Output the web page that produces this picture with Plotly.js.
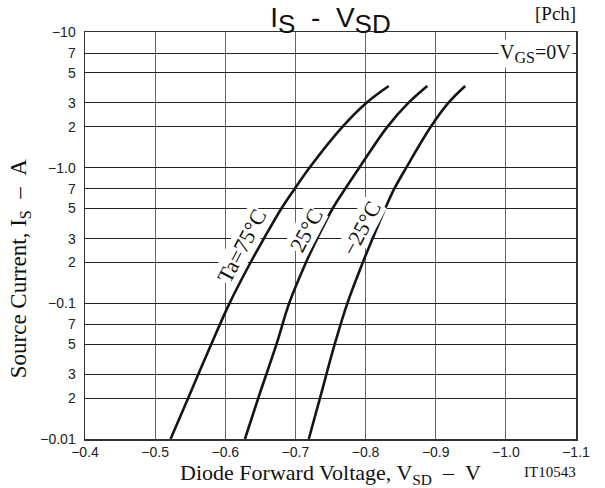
<!DOCTYPE html>
<html>
<head>
<meta charset="utf-8">
<script src="https://cdn.plot.ly/plotly-3.0.1.min.js"></script>
<style>
html,body{margin:0;padding:0;background:#fff;}
#chart{width:605px;height:488px;}
</style>
</head>
<body>
<div id="chart"></div>
<script>
// Source current magnitude (A) — drawn with negative tick labels as in the reference
const currentMag = [0.01, 0.02, 0.05, 0.1, 0.2, 0.3, 0.5, 0.7, 1, 2, 3, 4];
// Diode forward voltage (V) for each ambient temperature
const vsdTa75 = [-0.522, -0.547, -0.580, -0.606, -0.636, -0.655, -0.680, -0.699, -0.720, -0.767, -0.801, -0.833];
const vsdTa25 = [-0.628, -0.647, -0.673, -0.691, -0.715, -0.731, -0.753, -0.771, -0.791, -0.831, -0.861, -0.888];
const vsdTaM25 = [-0.719, -0.735, -0.756, -0.774, -0.796, -0.810, -0.828, -0.841, -0.858, -0.893, -0.918, -0.942];

const seriesNames = ['Ta=75°C', '25°C', '\u221225°C'];

const xTickVals = [-0.4, -0.5, -0.6, -0.7, -0.8, -0.9, -1.0, -1.1];
const xTickText = ['\u22120.4', '\u22120.5', '\u22120.6', '\u22120.7', '\u22120.8', '\u22120.9', '\u22121.0', '\u22121.1'];
const yTickVals = [0.01, 0.02, 0.03, 0.05, 0.07, 0.1, 0.2, 0.3, 0.5, 0.7, 1, 2, 3, 5, 7, 10];
const yTickText = ['\u22120.01', '2', '3', '5', '7', '\u22120.1', '2', '3', '5', '7', '\u22121.0', '2', '3', '5', '7', '\u221210'];

const sans = '"Liberation Sans", Arial, Helvetica, sans-serif';
const serif = '"Liberation Serif", "Times New Roman", Times, serif';

const lineStyle = {color: '#151515', width: 2.6, shape: 'spline', smoothing: 1};
const traces = [vsdTa75, vsdTa25, vsdTaM25].map((v, i) => ({
  x: v, y: currentMag, type: 'scatter', mode: 'lines', name: seriesNames[i],
  line: lineStyle, hoverinfo: 'x+y'
}));

function curveLabel(text, x, ylog) {
  return {
    text: text, x: x, y: ylog, xref: 'x', yref: 'y', showarrow: false,
    textangle: -62, bgcolor: '#ffffff', borderpad: 0,
    font: {family: serif, size: 22, color: '#111'}
  };
}

const layout = {
  width: 605, height: 488,
  margin: {l: 85, r: 29, t: 32, b: 49},
  paper_bgcolor: '#fff', plot_bgcolor: '#fff',
  showlegend: false,
  title: {
    text: 'I<sub><span style="font-size:26px">S</span></sub>\u00a0\u00a0-\u00a0\u00a0V<sub><span style="font-size:26px">SD</span></sub>',
    font: {family: sans, size: 28, color: '#111'},
    xref: 'paper', x: 0.5, xanchor: 'center',
    yref: 'container', y: 0.965, yanchor: 'middle'
  },
  xaxis: {
    range: [-0.4, -1.1], tickvals: xTickVals, ticktext: xTickText,
    showgrid: true, gridcolor: '#666', gridwidth: 1,
    zeroline: false, showline: true, linecolor: '#333', linewidth: 1.5, mirror: true,
    ticks: '', tickfont: {family: sans, size: 14, color: '#222'},
    title: {text: 'Diode Forward Voltage, V<sub>SD</sub>\u00a0\u00a0\u2013\u00a0\u00a0V', font: {family: serif, size: 22, color: '#111'}, standoff: 4}
  },
  yaxis: {
    type: 'log', range: [-2, 1], tickvals: yTickVals, ticktext: yTickText,
    showgrid: true, gridcolor: '#222', gridwidth: 1,
    zeroline: false, showline: true, linecolor: '#333', linewidth: 1.5, mirror: true,
    ticks: '', ticklabelstandoff: 5, tickfont: {family: sans, size: 14, color: '#222'}
  },
  annotations: [
    {text: 'Source Current, I<sub>S</sub>\u00a0\u00a0\u2013\u00a0\u00a0A', xref: 'paper', x: -0.132, xanchor: 'center',
     yref: 'paper', y: 0.42, yanchor: 'middle', textangle: -90, showarrow: false,
     font: {family: serif, size: 23, color: '#111'}},
    curveLabel(seriesNames[0], -0.624, -0.575),
    curveLabel(seriesNames[1], -0.7155, -0.465),
    curveLabel(seriesNames[2], -0.7935, -0.445),
    {text: 'V<sub><span style="font-size:16px">GS</span></sub>=0V', xref: 'paper', x: 0.993, xanchor: 'right', yref: 'y', y: Math.log10(7), yanchor: 'middle',
     showarrow: false, bgcolor: '#fff', borderpad: 1, font: {family: serif, size: 20, color: '#111'}},
    {text: '[Pch]', xref: 'paper', x: 1.005, xanchor: 'right', yref: 'paper', y: 1.045, yanchor: 'middle',
     showarrow: false, font: {family: serif, size: 19, color: '#111'}},
    {text: 'IT10543', xref: 'paper', x: 1.005, xanchor: 'right', yref: 'paper', y: -0.08, yanchor: 'middle',
     showarrow: false, font: {family: serif, size: 15, color: '#111'}}
  ]
};

Plotly.newPlot('chart', traces, layout, {displayModeBar: false, staticPlot: true});
</script>
</body>
</html>
